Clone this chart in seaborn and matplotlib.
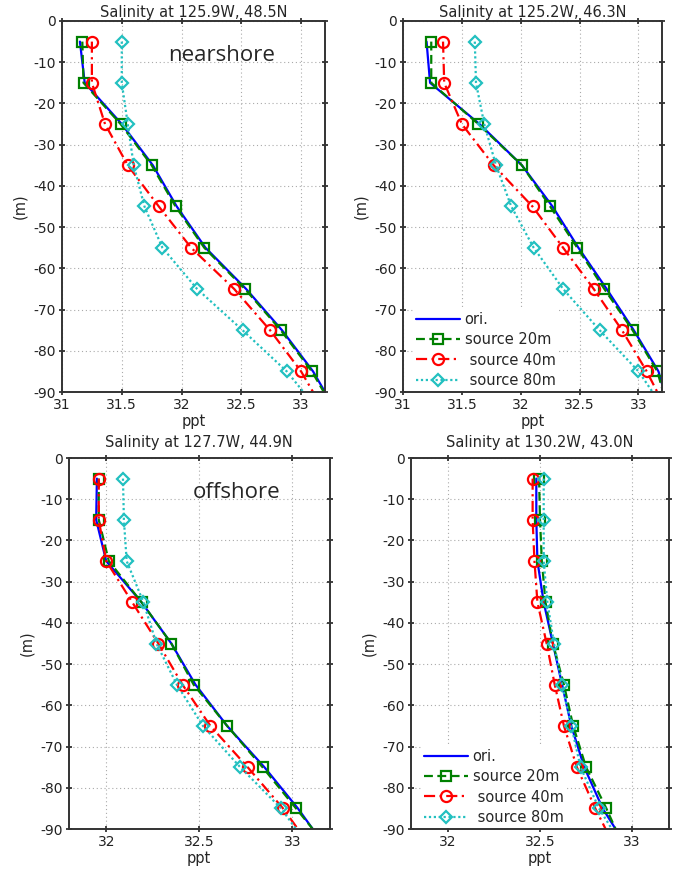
import matplotlib
matplotlib.use("Agg")
import matplotlib.pyplot as plt
import seaborn as sns
import pandas as pd

# ---------------- data ----------------
depth = [-5, -15, -25, -35, -45, -55, -65, -75, -85, -90]

titles = ["Salinity at 125.9W, 48.5N", "Salinity at 125.2W, 46.3N",
          "Salinity at 127.7W, 44.9N", "Salinity at 130.2W, 43.0N"]
series_labels = ["ori.", "source 20m", " source 40m", " source 80m"]

# panel 1: 125.9W, 48.5N (nearshore)
p1_ori = [31.15, 31.19, 31.50, 31.76, 31.96, 32.20, 32.54, 32.84, 33.10, 33.20]
p1_s20 = [31.17, 31.18, 31.49, 31.75, 31.95, 32.19, 32.53, 32.83, 33.09, 33.19]
p1_s40 = [31.25, 31.25, 31.36, 31.55, 31.81, 32.08, 32.44, 32.74, 33.00, 33.10]
p1_s80 = [31.50, 31.50, 31.55, 31.60, 31.69, 31.84, 32.13, 32.51, 32.88, 33.02]

# panel 2: 125.2W, 46.3N
p2_ori = [31.20, 31.23, 31.65, 32.01, 32.27, 32.49, 32.73, 32.96, 33.17, 33.22]
p2_s20 = [31.24, 31.24, 31.64, 32.01, 32.25, 32.48, 32.71, 32.95, 33.16, 33.21]
p2_s40 = [31.34, 31.35, 31.50, 31.77, 32.10, 32.36, 32.62, 32.86, 33.07, 33.16]
p2_s80 = [31.61, 31.62, 31.69, 31.79, 31.92, 32.11, 32.36, 32.67, 33.00, 33.12]

# panel 3: 127.7W, 44.9N (offshore)
p3_ori = [31.95, 31.946, 32.00, 32.19, 32.35, 32.48, 32.65, 32.85, 33.03, 33.11]
p3_s20 = [31.96, 31.96, 32.014, 32.19, 32.35, 32.47, 32.65, 32.84, 33.02, 33.11]
p3_s40 = [31.96, 31.96, 32.00, 32.14, 32.28, 32.41, 32.56, 32.76, 32.95, 33.03]
p3_s80 = [32.09, 32.095, 32.11, 32.20, 32.27, 32.38, 32.52, 32.72, 32.94, 33.02]

# panel 4: 130.2W, 43.0N
p4_ori = [32.48, 32.48, 32.486, 32.52, 32.57, 32.62, 32.67, 32.74, 32.84, 32.91]
p4_s20 = [32.495, 32.50, 32.51, 32.53, 32.57, 32.63, 32.68, 32.75, 32.86, 32.91]
p4_s40 = [32.46, 32.46, 32.47, 32.486, 32.536, 32.58, 32.63, 32.70, 32.80, 32.856]
p4_s80 = [32.52, 32.52, 32.52, 32.54, 32.576, 32.62, 32.67, 32.72, 32.82, 32.89]

panels = [
    (p1_ori, p1_s20, p1_s40, p1_s80),
    (p2_ori, p2_s20, p2_s40, p2_s80),
    (p3_ori, p3_s20, p3_s40, p3_s80),
    (p4_ori, p4_s20, p4_s40, p4_s80),
]

xticks_top = [31, 31.5, 32, 32.5, 33]
xticks_bot = [32, 32.5, 33]
yticks = [0, -10, -20, -30, -40, -50, -60, -70, -80, -90]

# ---------------- style ----------------
sns.set_style("ticks")
plt.rcParams["font.family"] = ["DejaVu Sans"]
plt.rcParams["axes.unicode_minus"] = False

colors = ["#0000ff", "#008000", "#ff0000", "#22c0c0"]
linestyles = ["-", (0, (4, 2)), (0, (5, 2, 1, 2)), (0, (1, 1.2))]
markers = [None, "s", "o", "D"]
msizes = [0, 7, 8, 6]

fig = plt.figure(figsize=(6.73, 8.72), dpi=100)
W, H = 673.0, 872.0
boxes = [
    (62, 325, 21, 392),
    (403, 662, 21, 392),
    (69, 329.5, 458, 829),
    (411, 669, 458, 829),
]

for i, (l, r, t, b) in enumerate(boxes):
    ax = fig.add_axes([l / W, 1 - b / H, (r - l) / W, (b - t) / H])
    for j, vals in enumerate(panels[i]):
        df = pd.DataFrame({"salinity": vals, "depth": depth})
        kw = dict(color=colors[j], linestyle=linestyles[j], linewidth=1.6,
                  label=series_labels[j])
        if markers[j] is not None:
            kw.update(marker=markers[j], markersize=msizes[j],
                      markerfacecolor="none", markeredgecolor=colors[j],
                      markeredgewidth=1.6, markevery=slice(0, 9))
        sns.lineplot(data=df, x="salinity", y="depth", sort=False,
                     estimator=None, ax=ax, **kw)
    if i < 2:
        ax.set_xlim(31, 33.2)
        ax.set_xticks(xticks_top)
        ax.set_xticklabels(["31", "31.5", "32", "32.5", "33"])
    else:
        ax.set_xlim(31.8, 33.2)
        ax.set_xticks(xticks_bot)
        ax.set_xticklabels(["32", "32.5", "33"])
    ax.set_ylim(-90, 0)
    ax.set_yticks(yticks)
    ax.set_yticklabels([str(v) for v in yticks])
    ax.grid(True, linestyle=(0, (1, 2.5)), color="#aaaaaa", linewidth=0.8)
    ax.tick_params(direction="inout", length=5, width=1.2, top=True, right=True,
                   labelsize=10, colors="#222222", pad=2)
    for s in ax.spines.values():
        s.set_linewidth(1.4)
        s.set_color("#333333")
    ax.set_xlabel("ppt", fontsize=10.5, labelpad=1)
    ax.set_ylabel("(m)", fontsize=10.5, labelpad=4)
    ax.set_title(titles[i], fontsize=10.5, pad=(3 if i < 2 else 8))
    if ax.get_legend() is not None:
        ax.get_legend().remove()
    if i == 0:
        ax.text(0.608, 0.906, "nearshore", transform=ax.transAxes,
                fontsize=16, family="Open Sans", ha="center", va="center")
    if i == 2:
        ax.text(0.643, 0.906, "offshore", transform=ax.transAxes,
                fontsize=16, family="Open Sans", ha="center", va="center")
    if i in (1, 3):
        handles = ax.get_lines()[:4]
        ax.legend(handles=handles, labels=series_labels, loc="lower left",
                  bbox_to_anchor=(0.035, 0.0), fontsize=10.5, frameon=True,
                  facecolor="white", edgecolor="none", framealpha=1,
                  handlelength=3.0, handletextpad=0.3, labelspacing=0.35,
                  borderpad=0.2, borderaxespad=0.1, fancybox=False)

fig.savefig("out.png", dpi=100)
